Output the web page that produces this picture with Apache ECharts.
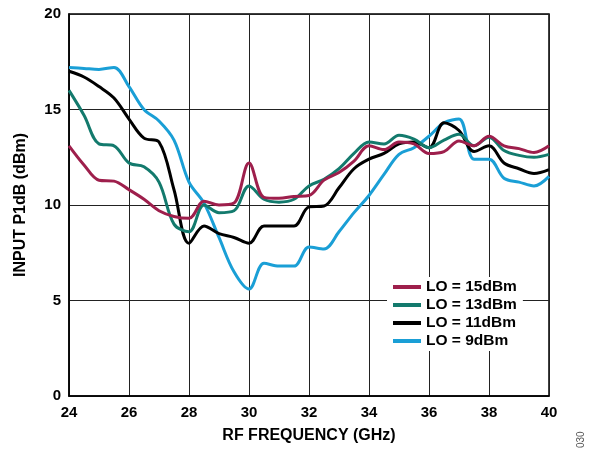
<!DOCTYPE html>
<html>
<head>
<meta charset="utf-8">
<script src="https://cdn.jsdelivr.net/npm/echarts@6/dist/echarts.min.js"></script>
<style>html,body{margin:0;padding:0;background:#fff}#c{width:595px;height:449px}</style>
</head>
<body>
<div id="c"></div>
<script>
var freq = [24,24.5,25,25.5,26,26.5,27,27.5,28,28.5,29,29.5,30,30.5,31,31.5,32,32.5,33,33.5,34,34.5,35,35.5,36,36.5,37,37.5,38,38.5,39,39.5,40];
var lo15 = [13.1,12.1,11.3,11.25,10.8,10.3,9.7,9.4,9.3,10.2,10.0,10.1,12.2,10.4,10.35,10.45,10.5,11.3,11.7,12.3,13.1,12.9,13.3,13.2,12.7,12.8,13.35,13.1,13.6,13.1,12.95,12.75,13.1];
var lo13 = [16.0,14.7,13.2,13.1,12.2,12.0,11.2,9.0,8.6,10.0,9.6,9.7,11.0,10.3,10.15,10.3,11.0,11.35,11.9,12.7,13.3,13.2,13.65,13.45,13.0,13.4,13.7,13.1,13.55,12.85,12.6,12.5,12.65];
var lo11 = [17.0,16.7,16.2,15.6,14.5,13.5,13.3,10.8,8.0,8.9,8.5,8.3,8.0,8.9,8.9,8.9,9.9,9.95,10.9,11.9,12.4,12.7,13.2,13.3,13.0,14.3,13.9,12.8,13.1,12.2,11.9,11.65,11.85];
var lo9 = [17.2,17.15,17.1,17.2,16.2,15.0,14.4,13.4,11.2,10.1,8.3,6.5,5.6,6.95,6.8,6.8,7.8,7.7,8.6,9.6,10.5,11.6,12.65,13.0,13.6,14.3,14.5,12.4,12.4,11.4,11.2,11.0,11.5];
var seriesNames = ['LO = 15dBm','LO = 13dBm','LO = 11dBm','LO = 9dBm'];
var seriesData = [lo15, lo13, lo11, lo9];
var colors = ['#9e1f4c','#137a6d','#000000','#1a9fd6'];
var xTicks = [24,26,28,30,32,34,36,38,40];
var yTicks = [0,5,10,15,20];

var font = 'Liberation Sans, Arial, sans-serif';
var chart = echarts.init(document.getElementById('c'));
chart.setOption({
  animation: false,
  backgroundColor: '#fff',
  color: colors,
  grid: {left: 69, right: 46, top: 14, bottom: 51, show: true, borderColor: '#000', borderWidth: 1.5, backgroundColor: 'transparent'},
  xAxis: {
    type: 'value', min: xTicks[0], max: xTicks[xTicks.length-1], interval: 2,
    name: 'RF FREQUENCY (GHz)', nameLocation: 'middle', nameGap: 32,
    nameTextStyle: {fontFamily: font, fontWeight: 'bold', fontSize: 16, color: '#000'},
    axisLine: {show: true, lineStyle: {color: '#000', width: 1.5}},
    axisTick: {show: false},
    axisLabel: {fontFamily: font, fontWeight: 'bold', fontSize: 15, color: '#000', margin: 9},
    splitLine: {show: true, lineStyle: {color: '#222', width: 1}}
  },
  yAxis: {
    type: 'value', min: yTicks[0], max: yTicks[yTicks.length-1], interval: 5,
    name: 'INPUT P1dB (dBm)', nameLocation: 'middle', nameGap: 40,
    nameTextStyle: {fontFamily: font, fontWeight: 'bold', fontSize: 16, color: '#000'},
    axisLine: {show: true, lineStyle: {color: '#000', width: 1.5}},
    axisTick: {show: false},
    axisLabel: {fontFamily: font, fontWeight: 'bold', fontSize: 15, color: '#000', margin: 8},
    splitLine: {show: true, lineStyle: {color: '#222', width: 1}}
  },
  legend: {
    orient: 'vertical', left: 387, top: 277,
    backgroundColor: '#fff', padding: [2, 6, 2, 6],
    itemWidth: 28, itemHeight: 4, itemGap: 2,
    icon: 'rect',
    textStyle: {fontFamily: font, fontWeight: 'bold', fontSize: 15.5, lineHeight: 14, color: '#000'},
    data: seriesNames
  },
  series: seriesNames.map(function(n, i) {
    return {
      name: n, type: 'line', smooth: 0.35, showSymbol: false, symbol: 'none',
      lineStyle: {width: 3, color: colors[i]},
      itemStyle: {color: colors[i]},
      z: 10 - i,
      data: freq.map(function(f, j) { return [f, seriesData[i][j]]; })
    };
  }),
  graphic: [{
    type: 'text', x: 576, y: 448, rotation: Math.PI/2,
    style: {text: '030', font: '10px ' + font, fill: '#555', textVerticalAlign: 'top'}
  }]
});
</script>
</body>
</html>
